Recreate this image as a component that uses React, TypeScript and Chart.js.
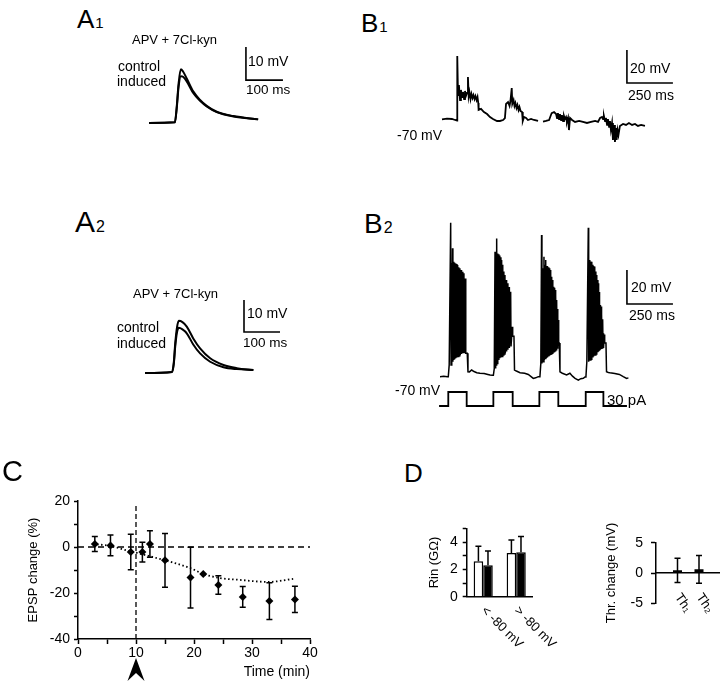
import React, { useEffect, useRef } from "react";
import { Chart, registerables } from "chart.js";

Chart.register(...registerables);

const FONT = '"Liberation Sans", Arial, Helvetica, sans-serif';
Chart.defaults.font.family = FONT;
Chart.defaults.color = "#000";

// ---------------- Panel A: EPSPs (time in ms, mV relative to baseline) ----------------
const A1_T = [0, 70, 75, 80, 86, 92, 102, 120, 138, 156, 183, 228, 295];
const A1_CONTROL = [0, 0.2, 5, 12, 16.3, 15.6, 13.5, 9.5, 7.0, 5.2, 3.4, 2.1, 1.1];
const A1_INDUCED = [0, 0.2, 4.5, 11, 14.2, 14.0, 12.6, 9.0, 6.7, 5.0, 3.3, 2.0, 1.1];
const A2_T = [0, 75, 80, 84, 89, 94, 104, 116, 134, 153, 181, 218, 255, 301];
const A2_CONTROL = [-0.3, 0, 3, 9, 14, 16, 15.6, 14.2, 10.5, 7.4, 4.3, 2.2, 1.2, 0.6];
const A2_INDUCED = [-0.3, 0, 2.5, 8, 12.5, 13.8, 13.3, 12.1, 8.6, 5.8, 3.2, 1.5, 0.9, 0.6];
const A_SCALE_MV = 10;
const A_SCALE_MS = 100;
const A1_SCALE_AT = [262, 13.0];
const A2_SCALE_AT = [275, 12.5];

// ---------------- Panel B1: membrane potential (ms, mV) ----------------
const B1_T = [0, 27, 54, 71, 82, 83, 87, 92, 98, 103, 109, 114, 120, 125, 130, 136, 141, 145, 149, 155, 160, 166, 171, 177, 182, 188, 193, 197, 199, 212, 228, 245, 261, 277, 299, 315, 332, 342, 348, 359, 367, 372, 379, 382, 389, 394, 399, 405, 410, 416, 421, 427, 435, 439, 446, 457, 467, 484, 500, 522, 535, 549, 565, 582, 596, 609, 620, 625, 630, 636, 641, 647, 652, 658, 663, 668, 674, 679, 685, 690, 696, 707, 723, 745, 766, 788, 810, 832, 848, 859, 870, 875, 880, 886, 891, 897, 902, 908, 913, 918, 924, 929, 935, 940, 946, 949, 954, 959, 967, 984, 1000, 1016, 1033, 1049, 1065, 1082, 1103];
const B1_V = [-70.2, -69.8, -70, -70.6, -70.9, -31.8, -55.5, -49.4, -58.5, -52.4, -56.7, -53.6, -57.9, -53, -56.1, -54.2, -44.5, -56.1, -53.6, -57.9, -54.8, -57.3, -55.5, -57.9, -56.1, -58.5, -56.7, -60.3, -64.5, -63.9, -65.8, -67, -68.8, -70, -71.2, -71.2, -70.6, -69.4, -60.9, -59.7, -62.1, -59.1, -51.2, -60.9, -58.5, -62.1, -60.3, -63.3, -61.5, -64.5, -62.7, -65.2, -65.8, -71.2, -68.8, -69.4, -70.6, -70, -70.6, -71.2, null, -71.6, -71.2, -70.6, -66.4, -65.8, -67, -69.4, -66.4, -70, -67, -70.6, -67.6, -71.2, -68.2, -70, -68.8, -71.8, -69.4, -76.7, -69.4, -70.6, -71.8, -71.2, -71.8, -72.4, -71.8, -71.2, -71.8, -69.4, -68.8, -70, -68.2, -71.2, -69.4, -73.6, -70, -74.8, -71.2, -76.7, -72.4, -82.7, -73.6, -83.9, -75.5, -82.7, -76.7, -79.7, -74.2, -73, -73.6, -72.4, -73.6, -73, -74.2, -73.6, -74.2];
const B_SCALE_MV = 20;
const B_SCALE_MS = 250;
const B1_SCALE_AT = [1005, -48.2];

// ---------------- Panel B2: bursts (ms, mV) and current steps (pA) ----------------
const B2_REST_T = [[0, 20, 40], [152, 160, 172, 185, 200, 217, 240, 260, 272, 285], [405, 415, 435, 460, 480, 507, 520, 534], [652, 665, 688, 706, 720, 734, 752, 765, 779, 788], [905, 915, 924, 950, 975, 996, 1014, 1024]];
const B2_REST_V = [[-69.8, -69.6, -69.9], [-66.9, -67, -65.9, -66.8, -67.5, -67.8, -68, -68.5, -68.8, -69], [-65.9, -66.5, -67.5, -67.8, -68.5, -70.8, -70.5, -69.8], [-66.9, -67.8, -68.8, -67.8, -69.5, -70.8, -71.8, -71, -70.8, -70], [-66.9, -67.3, -67.5, -68, -68.5, -69.8, -70.8, -70.5]];
const B2_ONSET_T = [45, 290, 543, 793];
const B2_OFFSET_T = [148, 402, 648, 902];
const B2_SPIKE_T = [
  [58, 63, 68, 73, 78, 84, 90, 96, 102, 108, 115, 122, 130, 138],
  [299, 304, 308, 313, 318, 323, 329, 335, 341, 347, 353, 360, 367, 375, 384, 393],
  [552, 558, 565, 571, 576, 582, 589, 594, 598, 603, 607, 612, 616, 621, 625, 630, 634, 639, 643],
  [806, 811, 815, 820, 824, 829, 833, 838, 842, 847, 851, 856, 860, 865, 870, 875, 879, 884, 888, 893],
];
const B2_SPIKE_PEAK = [
  [20.7, -3, 5.7, -2.2, -2.8, -3.2, -3.6, -4.1, -5.5, -6.1, -7.1, -8.1, -9, -12],
  [3.7, 2.7, 11.5, 2.7, 2.2, 1.5, 0.5, -1.2, -4, -8, -10, -13, -14.9, -17, -19.8, -40.4],
  [13.5, -6, 0.8, -4, -1.2, -4.7, -5.5, -6.1, -7.1, -9, -11, -13, -16.9, -17.5, -18.8, -22, -24.7, -30, -36.5],
  [17.8, -3, -1.2, -2, -2.2, -4, -4.7, -5, -6.1, -8, -10, -13, -14.9, -20, -27.7, -28.6, -33, -36, -44.3, -45],
];
const B2_SPIKE_TROUGH = [
  [-62.9, -62, -61, -60, -59.5, -59, -58.5, -58, -57.5, -57, -56.5, -56, -56, -56],
  [-65, -63, -62, -61, -60, -59, -58.5, -58, -57, -56.5, -56, -55, -54, -53, -52, -46],
  [-62, -61, -60, -59.5, -59, -58.5, -58, -57.5, -57, -56.5, -56, -56, -55.7, -55.5, -55, -54, -53, -52.2, -50],
  [-61, -60.5, -60, -59.5, -59, -58.5, -58, -57.5, -57, -56.5, -56, -55.5, -55, -54.5, -54, -53.5, -53, -52.5, -52.2, -50],
];
const I_STEP_ON = [45, 290, 540, 792];
const I_STEP_OFF = [145, 395, 643, 888];
const I_STEP_PA = 30;
const I_TRACE_START = -5;
const I_TRACE_END = 1016;
const B2_SCALE_AT = [1016, -27.1];

// ---------------- Panel C: EPSP change over time ----------------
const C_TIME = [2.9, 5.6, 9.1, 11.1, 12.4, 15.0, 19.4, 21.6, 24.2, 28.4, 33.0, 37.4];
const C_EPSP = [1.3, 0.7, -2.2, -2.2, 1.3, -5.8, -13.3, -11.7, -16.5, -21.7, -23.5, -22.8];
const C_SEM = [3.3, 4.5, 7.7, 4.3, 5.8, 11.7, 13.2, 0, 4.0, 4.5, 8.0, 5.7];
const C_FIT_T = [2.6, 6, 8, 10.2, 14.1, 19.3, 21.6, 24.5, 27.9, 32.8, 37.1];
const C_FIT_V = [1.3, 0.3, -1.2, -2.6, -5.2, -9.1, -11.7, -13.5, -14.3, -15.2, -13.9];
const C_INDUCTION_MIN = 10;
const C_INDUCTION_TOP = 18.7;

// ---------------- Panel D ----------------
const RIN_GROUPS = ["< -80 mV", "> -80 mV"];
const RIN_CONTROL = [2.6, 3.2];
const RIN_CONTROL_SEM = [1.1, 0.95];
const RIN_INDUCED = [2.3, 3.25];
const RIN_INDUCED_SEM = [1.05, 1.15];
const THR_LABELS = ["", "Th\u2081", "Th\u2082", ""];
const THR_CHANGE = [null, 0.45, 0.6, null];
const THR_SEM = [null, 2.0, 2.3, null];

// ---------------- layout ----------------
const A1_BOX = { x: 140, y: 40, w: 160, h: 95 };
const A2_BOX = { x: 135, y: 290, w: 160, h: 95 };
const B1_BOX = { x: 430, y: 40, w: 250, h: 110 };
const B2_BOX = { x: 430, y: 210, w: 250, h: 205 };
const C_BOX = { x: 0, y: 480, w: 330, h: 201 };
const DL_BOX = { x: 400, y: 515, w: 175, h: 145 };
const DR_BOX = { x: 590, y: 500, w: 140, h: 150 };

const A1_MAP = { px0: 149, py0: 123, t0: 0, v0: 0, msPerPx: 100 / 37, mvPerPx: 10 / 33 };
const A2_MAP = { px0: 145, py0: 372, t0: 0, v0: 0, msPerPx: 100 / 36, mvPerPx: 10 / 32 };
const B1_MAP = { px0: 442, py0: 119, t0: 0, v0: -70, msPerPx: 250 / 46, mvPerPx: 20 / 33 };
const B2_MAP = { px0: 440, py0: 377, t0: 0, v0: -70, msPerPx: 250 / 46, mvPerPx: 20 / 34 };
const B2_I_MAP = { py0: 406, v0: 0, perPx: 30 / 14 };

const common: any = {
  animation: false,
  responsive: false,
  maintainAspectRatio: false,
  devicePixelRatio: 1,
  events: [],
  plugins: { legend: { display: false }, tooltip: { enabled: false } },
};

const xy = (T: number[], V: (number | null)[]) => T.map((t, i) => ({ x: t, y: V[i] }));
const trace = (data: any[], extra: any = {}) => ({
  data,
  borderColor: "#000",
  borderWidth: 2,
  pointRadius: 0,
  fill: false,
  tension: 0,
  ...extra,
});
const scaleBar = (at: number[], dt: number, dv: number) => [
  { x: at[0], y: at[1] + dv },
  { x: at[0], y: at[1] },
  { x: at[0] + dt, y: at[1] },
];

function traceConfig(box: any, m: any, datasets: any[], extraScales: any = {}) {
  const xmin = m.t0 - (m.px0 - box.x) * m.msPerPx;
  const ymax = m.v0 + (m.py0 - box.y) * m.mvPerPx;
  return {
    type: "line",
    data: { datasets },
    options: {
      ...common,
      layout: { autoPadding: false, padding: 0 },
      elements: { point: { radius: 0, hitRadius: 0, borderWidth: 0 } },
      scales: {
        x: { type: "linear", display: false, min: xmin, max: xmin + box.w * m.msPerPx },
        y: { type: "linear", display: false, min: ymax - box.h * m.mvPerPx, max: ymax },
        ...extraScales,
      },
    },
  };
}

function buildB2() {
  const pts: any[] = [];
  for (let k = 0; k < B2_SPIKE_T.length; k++) {
    B2_REST_T[k].forEach((t, i) => pts.push({ x: t, y: B2_REST_V[k][i] }));
    const rest = B2_REST_V[k][B2_REST_V[k].length - 1];
    pts.push({ x: B2_ONSET_T[k], y: rest });
    pts.push({ x: B2_ONSET_T[k] + 5, y: B2_SPIKE_TROUGH[k][0] });
    B2_SPIKE_T[k].forEach((t, i) => {
      pts.push({ x: t, y: B2_SPIKE_PEAK[k][i] });
      pts.push({ x: t + 2, y: B2_SPIKE_TROUGH[k][i] });
    });
    pts.push({ x: B2_OFFSET_T[k], y: B2_SPIKE_TROUGH[k][B2_SPIKE_TROUGH[k].length - 1] });
  }
  const last = B2_REST_T.length - 1;
  B2_REST_T[last].forEach((t, i) => pts.push({ x: t, y: B2_REST_V[last][i] }));
  return pts;
}

function buildCurrent() {
  const pts: any[] = [{ x: I_TRACE_START, y: 0 }];
  I_STEP_ON.forEach((on, k) => {
    pts.push({ x: on, y: 0 }, { x: on, y: I_STEP_PA }, { x: I_STEP_OFF[k], y: I_STEP_PA }, { x: I_STEP_OFF[k], y: 0 });
  });
  pts.push({ x: I_TRACE_END, y: 0 });
  return pts;
}

const a1Config = () =>
  traceConfig(A1_BOX, A1_MAP, [
    trace(xy(A1_T, A1_CONTROL), { cubicInterpolationMode: "monotone" }),
    trace(xy(A1_T, A1_INDUCED), { cubicInterpolationMode: "monotone" }),
    trace(scaleBar(A1_SCALE_AT, A_SCALE_MS, A_SCALE_MV), { borderWidth: 1.6 }),
  ]);

const a2Config = () =>
  traceConfig(A2_BOX, A2_MAP, [
    trace(xy(A2_T, A2_CONTROL), { cubicInterpolationMode: "monotone" }),
    trace(xy(A2_T, A2_INDUCED), { cubicInterpolationMode: "monotone" }),
    trace(scaleBar(A2_SCALE_AT, A_SCALE_MS, A_SCALE_MV), { borderWidth: 1.6 }),
  ]);

const b1Config = () =>
  traceConfig(B1_BOX, B1_MAP, [
    trace(xy(B1_T, B1_V), { borderWidth: 1.8 }),
    trace(scaleBar(B1_SCALE_AT, B_SCALE_MS, B_SCALE_MV), { borderWidth: 1.6 }),
  ]);

const b2Config = () => {
  const iMax = B2_I_MAP.v0 + (B2_I_MAP.py0 - B2_BOX.y) * B2_I_MAP.perPx;
  return traceConfig(
    B2_BOX,
    B2_MAP,
    [
      trace(buildB2(), { borderWidth: 1.5 }),
      trace(buildCurrent(), { borderWidth: 1.8, yAxisID: "yI" }),
      trace(scaleBar(B2_SCALE_AT, B_SCALE_MS, B_SCALE_MV), { borderWidth: 1.6 }),
    ],
    { yI: { type: "linear", display: false, min: iMax - B2_BOX.h * B2_I_MAP.perPx, max: iMax } }
  );
};

const axisStyle = (tickLength: number) => ({
  grid: { drawOnChartArea: false, drawTicks: true, tickLength, tickWidth: 1.5, tickColor: "#000" },
  border: { display: true, color: "#000", width: 1.5 },
});

const cErrorBars = {
  id: "cErrorBars",
  beforeDatasetsDraw(chart: any) {
    const { ctx } = chart;
    const { x, y } = chart.scales;
    ctx.save();
    ctx.strokeStyle = "#000";
    ctx.lineWidth = 1.5;
    C_TIME.forEach((t, i) => {
      if (!C_SEM[i]) return;
      const px = x.getPixelForValue(t);
      const y1 = y.getPixelForValue(C_EPSP[i] + C_SEM[i]);
      const y2 = y.getPixelForValue(C_EPSP[i] - C_SEM[i]);
      ctx.beginPath();
      ctx.moveTo(px, y1);
      ctx.lineTo(px, y2);
      ctx.moveTo(px - 3, y1);
      ctx.lineTo(px + 3, y1);
      ctx.moveTo(px - 3, y2);
      ctx.lineTo(px + 3, y2);
      ctx.stroke();
    });
    ctx.restore();
  },
};

const cArrow = {
  id: "cArrow",
  afterDraw(chart: any) {
    const { ctx, chartArea } = chart;
    const x = chart.scales.x.getPixelForValue(C_INDUCTION_MIN);
    const top = chartArea.bottom + 19;
    const bottom = chart.height;
    ctx.save();
    ctx.fillStyle = "#000";
    ctx.beginPath();
    ctx.moveTo(x, top);
    ctx.lineTo(x + 8.5, bottom);
    ctx.lineTo(x, bottom - 8);
    ctx.lineTo(x - 8.5, bottom);
    ctx.closePath();
    ctx.fill();
    ctx.restore();
  },
};

const cConfig = () => ({
  type: "line",
  data: {
    datasets: [
      {
        data: xy(C_TIME, C_EPSP),
        showLine: false,
        pointStyle: "rectRot",
        pointRadius: 4,
        pointBackgroundColor: "#000",
        pointBorderColor: "#000",
        pointBorderWidth: 0,
      },
      trace(xy(C_FIT_T, C_FIT_V), { borderWidth: 1.8, borderDash: [1.5, 2.5], cubicInterpolationMode: "monotone" }),
      trace([{ x: 0, y: 0 }, { x: 40, y: 0 }], { borderWidth: 1.5, borderDash: [6, 4] }),
      trace([{ x: C_INDUCTION_MIN, y: -40 }, { x: C_INDUCTION_MIN, y: C_INDUCTION_TOP }], { borderWidth: 1.3, borderDash: [5, 3] }),
    ],
  },
  options: {
    ...common,
    layout: { autoPadding: false, padding: { top: 21, right: 20, left: 0, bottom: 0 } },
    scales: {
      x: {
        type: "linear",
        min: 0,
        max: 40,
        ...axisStyle(5),
        ticks: { stepSize: 5, autoSkip: false, maxRotation: 0, padding: 1, font: { size: 14 }, callback: (v: number) => (v % 10 === 0 ? String(v) : "") },
        title: { display: true, text: "Time (min)", align: "end", font: { size: 14 }, padding: { top: 0, bottom: 0 } },
        afterFit: (s: any) => { s.height = 42; },
      },
      y: {
        type: "linear",
        min: -40,
        max: 20,
        ...axisStyle(4),
        ticks: { stepSize: 10, autoSkip: false, padding: 4, font: { size: 14 }, callback: (v: number) => (v % 20 === 0 ? String(v) : "") },
        title: { display: true, text: "EPSP change (%)", font: { size: 13 }, padding: { top: 26, bottom: 0 } },
        afterFit: (s: any) => { s.width = 78; },
      },
    },
  },
  plugins: [cErrorBars, cArrow],
});

const dLeftExtras = {
  id: "dLeftExtras",
  afterDatasetsDraw(chart: any) {
    const { ctx, chartArea } = chart;
    const { x, y } = chart.scales;
    ctx.save();
    ctx.strokeStyle = "#000";
    ctx.lineWidth = 1.5;
    const sets = [
      [RIN_CONTROL, RIN_CONTROL_SEM],
      [RIN_INDUCED, RIN_INDUCED_SEM],
    ];
    sets.forEach(([vals, sems], di) => {
      chart.getDatasetMeta(di).data.forEach((bar: any, i: number) => {
        const px = bar.x;
        const y0 = y.getPixelForValue(vals[i]);
        const y1 = y.getPixelForValue(vals[i] + sems[i]);
        ctx.beginPath();
        ctx.moveTo(px, y0);
        ctx.lineTo(px, y1);
        ctx.moveTo(px - 3, y1);
        ctx.lineTo(px + 3, y1);
        ctx.stroke();
      });
    });
    ctx.fillStyle = "#000";
    ctx.font = `13px ${FONT}`;
    ctx.textAlign = "left";
    ctx.textBaseline = "middle";
    RIN_GROUPS.forEach((lab, i) => {
      const px = x.getPixelForTick(i);
      ctx.save();
      ctx.translate(px, chartArea.bottom + 12);
      ctx.rotate((45 * Math.PI) / 180);
      ctx.fillText(lab, 0, 0);
      ctx.restore();
    });
    ctx.restore();
  },
};

// chart area targets (page px): left 466.7, right 532.7, top 526.7, bottom 596.7
const dLeftConfig = () => ({
  type: "bar",
  data: {
    labels: RIN_GROUPS,
    datasets: [
      { label: "control", data: RIN_CONTROL, backgroundColor: "#fff", borderColor: "#000", borderWidth: 1.5, categoryPercentage: 0.58, barPercentage: 1 },
      { label: "induced", data: RIN_INDUCED, backgroundColor: "#000", borderColor: "#000", borderWidth: 1.5, categoryPercentage: 0.58, barPercentage: 1 },
    ],
  },
  options: {
    ...common,
    layout: { autoPadding: false, padding: { top: 526.7 - DL_BOX.y, right: DL_BOX.x + DL_BOX.w - 532.7, left: 0, bottom: 0 } },
    scales: {
      x: {
        type: "category",
        ticks: { display: false },
        grid: { display: false, drawTicks: false },
        border: { display: true, color: "#000", width: 1.5 },
        afterFit: (s: any) => { s.height = DL_BOX.y + DL_BOX.h - 596.7; },
      },
      y: {
        type: "linear",
        min: 0,
        max: 5,
        ...axisStyle(4),
        ticks: { stepSize: 1, autoSkip: false, padding: 5, font: { size: 14 }, callback: (v: number) => (v % 2 === 0 ? String(v) : "") },
        title: { display: true, text: "Rin (G\u03A9)", font: { size: 13 }, padding: { top: 27, bottom: 0 } },
        afterFit: (s: any) => { s.width = 466.7 - DL_BOX.x; },
      },
    },
  },
  plugins: [dLeftExtras],
});

const dRightExtras = {
  id: "dRightExtras",
  afterDatasetsDraw(chart: any) {
    const { ctx } = chart;
    const { x, y } = chart.scales;
    const meta = chart.getDatasetMeta(0);
    ctx.save();
    ctx.strokeStyle = "#000";
    ctx.lineWidth = 1.5;
    THR_CHANGE.forEach((v, i) => {
      if (v === null || THR_SEM[i] === null) return;
      const px = meta.data[i].x;
      const y1 = y.getPixelForValue(v + (THR_SEM[i] as number));
      const y2 = y.getPixelForValue(v - (THR_SEM[i] as number));
      ctx.beginPath();
      ctx.moveTo(px, y1);
      ctx.lineTo(px, y2);
      ctx.moveTo(px - 3, y1);
      ctx.lineTo(px + 3, y1);
      ctx.moveTo(px - 3, y2);
      ctx.lineTo(px + 3, y2);
      ctx.stroke();
    });
    ctx.fillStyle = "#000";
    ctx.font = `13px ${FONT}`;
    ctx.textAlign = "left";
    ctx.textBaseline = "middle";
    THR_LABELS.forEach((lab, i) => {
      if (!lab) return;
      const px = x.getPixelForTick(i);
      ctx.save();
      ctx.translate(px, y.getPixelForValue(0) + 22);
      ctx.rotate((55 * Math.PI) / 180);
      ctx.fillText(lab, 0, 0);
      ctx.restore();
    });
    ctx.restore();
  },
};

// chart area targets (page px): left 656, right 720.5, top 542.7, bottom 603.3
const dRightConfig = () => ({
  type: "bar",
  data: {
    labels: THR_LABELS,
    datasets: [{ data: THR_CHANGE, backgroundColor: "#000", borderWidth: 0, categoryPercentage: 1, barPercentage: 0.42 }],
  },
  options: {
    ...common,
    layout: {
      autoPadding: false,
      padding: { top: 542.7 - DR_BOX.y, right: DR_BOX.x + DR_BOX.w - 720.5, left: 0, bottom: DR_BOX.y + DR_BOX.h - 603.3 },
    },
    scales: {
      x: {
        type: "category",
        offset: false,
        position: { y: 0 },
        ticks: { display: false },
        grid: { display: false, drawTicks: false },
        border: { display: true, color: "#000", width: 1.5 },
      },
      y: {
        type: "linear",
        min: -5,
        max: 5,
        ...axisStyle(5),
        ticks: { stepSize: 5, autoSkip: false, padding: 8, font: { size: 14 } },
        title: { display: true, text: "Thr. change (mV)", font: { size: 13 }, padding: { top: 14, bottom: 0 } },
        afterFit: (s: any) => { s.width = 656 - DR_BOX.x; },
      },
    },
  },
  plugins: [dRightExtras],
});

function ChartCanvas({ box, config }: { box: any; config: () => any }) {
  const ref = useRef<HTMLCanvasElement | null>(null);
  useEffect(() => {
    if (!ref.current) return;
    const chart = new Chart(ref.current, config());
    return () => chart.destroy();
  }, []);
  return (
    <canvas
      ref={ref}
      width={box.w}
      height={box.h}
      style={{ position: "absolute", left: box.x, top: box.y, width: box.w, height: box.h, display: "block" }}
    />
  );
}

function Txt({ x, cy, size, children }: any) {
  return (
    <div
      style={{
        position: "absolute",
        left: x,
        top: cy - 0.49 * size,
        fontSize: size,
        lineHeight: `${size}px`,
        whiteSpace: "nowrap",
        fontFamily: FONT,
        color: "#000",
      }}
    >
      {children}
    </div>
  );
}

function PanelLabel({ x, base, big, small, main, sub }: any) {
  return (
    <div
      style={{
        position: "absolute",
        left: x,
        top: base - 0.8465 * big,
        fontSize: big,
        lineHeight: `${big}px`,
        whiteSpace: "nowrap",
        fontFamily: FONT,
        color: "#000",
      }}
    >
      {main}
      {sub ? <span style={{ fontSize: small, marginLeft: 1 }}>{sub}</span> : null}
    </div>
  );
}

export default function App() {
  return (
    <div
      style={{
        position: "absolute",
        left: 0,
        top: 0,
        width: 720,
        height: 681,
        overflow: "hidden",
        background: "#fff",
        fontFamily: FONT,
      }}
    >
      <ChartCanvas box={A1_BOX} config={a1Config} />
      <ChartCanvas box={A2_BOX} config={a2Config} />
      <ChartCanvas box={B1_BOX} config={b1Config} />
      <ChartCanvas box={B2_BOX} config={b2Config} />
      <ChartCanvas box={C_BOX} config={cConfig} />
      <ChartCanvas box={DL_BOX} config={dLeftConfig} />
      <ChartCanvas box={DR_BOX} config={dRightConfig} />

      <PanelLabel x={77} base={28.5} big={26} small={15} main="A" sub="1" />
      <PanelLabel x={361} base={32} big={26} small={15} main="B" sub="1" />
      <PanelLabel x={75} base={232} big={30} small={16} main="A" sub="2" />
      <PanelLabel x={364} base={233.3} big={28} small={16} main="B" sub="2" />
      <PanelLabel x={2} base={481.7} big={29} main="C" />
      <PanelLabel x={404} base={481.7} big={26} main="D" />

      <Txt x={132} cy={39} size={13}>APV + 7Cl-kyn</Txt>
      <Txt x={118} cy={66} size={14}>control</Txt>
      <Txt x={117} cy={80.5} size={14}>induced</Txt>
      <Txt x={248} cy={61} size={14}>10 mV</Txt>
      <Txt x={246} cy={90} size={13.5}>100 ms</Txt>

      <Txt x={133} cy={293} size={13}>APV + 7Cl-kyn</Txt>
      <Txt x={117} cy={327} size={14}>control</Txt>
      <Txt x={117} cy={343} size={14}>induced</Txt>
      <Txt x={247} cy={313} size={14}>10 mV</Txt>
      <Txt x={243} cy={343} size={13.5}>100 ms</Txt>

      <Txt x={630} cy={68} size={14}>20 mV</Txt>
      <Txt x={628} cy={95} size={14}>250 ms</Txt>
      <Txt x={397} cy={135} size={14}>-70 mV</Txt>

      <Txt x={631} cy={287} size={14}>20 mV</Txt>
      <Txt x={629} cy={315} size={14}>250 ms</Txt>
      <Txt x={395} cy={390} size={14}>-70 mV</Txt>
      <Txt x={607} cy={399} size={15}>30 pA</Txt>
    </div>
  );
}
